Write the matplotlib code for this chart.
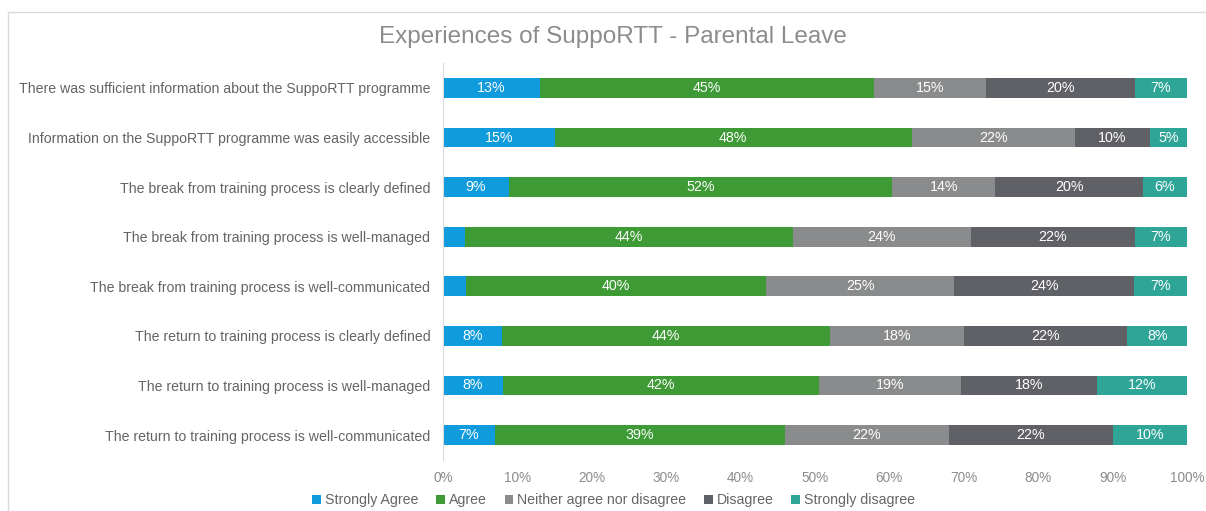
import matplotlib
matplotlib.use('Agg')
from matplotlib import pyplot as plt
from matplotlib.patches import Rectangle
import numpy as np

plt.rcParams['font.family'] = ['Liberation Sans', 'DejaVu Sans']

# Experiences of SuppoRTT - Parental Leave (percent of respondents)
statements = [
    'There was sufficient information about the SuppoRTT programme',
    'Information on the SuppoRTT programme was easily accessible',
    'The break from training process is clearly defined',
    'The break from training process is well-managed',
    'The break from training process is well-communicated',
    'The return to training process is clearly defined',
    'The return to training process is well-managed',
    'The return to training process is well-communicated',
]
categories = ['Strongly Agree', 'Agree', 'Neither agree nor disagree', 'Disagree', 'Strongly disagree']
strongly_agree = [13, 15, 9, 3, 3, 8, 8, 7]
agree = [45, 48, 52, 44, 40, 44, 42, 39]
neither = [15, 22, 14, 24, 25, 18, 19, 22]
disagree = [20, 10, 20, 22, 24, 22, 18, 22]
strongly_disagree = [7, 5, 6, 7, 7, 8, 12, 10]
colors = ['#0f9bdc', '#3d9a35', '#898b8c', '#5f6167', '#2ea597']

series = np.array([strongly_agree, agree, neither, disagree, strongly_disagree], dtype=float)
shares = series / series.sum(axis=0) * 100  # 100% stacked, like Excel

fig = plt.figure(figsize=(12.06, 5.11), dpi=100)
ax = fig.add_axes([0.3673, 0.1002, 0.6169, 0.7761])

y = np.arange(len(statements))
left = np.zeros(len(statements))
for vals, raw, name, col in zip(shares, series, categories, colors):
    ax.barh(y, vals, left=left, height=0.4, color=col, label=name)
    for yi, l, v, r in zip(y, left, vals, raw):
        if r >= 5:
            ax.text(l + v / 2, yi, f'{int(r)}%', ha='center', va='center',
                    color='white', fontsize=10.3)
    left += vals

ax.set_xlim(0, 100)
ax.set_ylim(len(statements) - 0.5, -0.5)
ax.set_xticks(np.arange(0, 101, 10))
ax.set_xticklabels([f'{t}%' for t in range(0, 101, 10)])
ax.set_yticks(y)
ax.set_yticklabels(statements)
ax.tick_params(axis='both', length=0, colors='#646464', labelsize=10.2)
ax.tick_params(axis='y', pad=9)
ax.tick_params(axis='x', pad=8, labelsize=9.8)
for lab in ax.get_xticklabels():
    lab.set_color('#8c8c8c')
for s in ['top', 'right', 'bottom']:
    ax.spines[s].set_visible(False)
ax.spines['left'].set_color('#d9d9d9')

fig.text(0.508, 0.927, 'Experiences of SuppoRTT - Parental Leave', ha='center',
         va='center', fontsize=17.5, color='#8c8c8c')

fig.legend(loc='center', bbox_to_anchor=(0.509, 0.021), ncol=5, frameon=False,
           fontsize=10.2, handlelength=0.6, handleheight=0.6, handletextpad=0.3,
           columnspacing=1.25, labelcolor='#646464')

# chart frame
fig.patches.append(Rectangle((8 / 1206, -0.01), 1.1, 1 - 12 / 511 + 0.01,
                             transform=fig.transFigure, fill=False,
                             edgecolor='#d9d9d9', linewidth=1))

plt.savefig('out.png', dpi=100)
